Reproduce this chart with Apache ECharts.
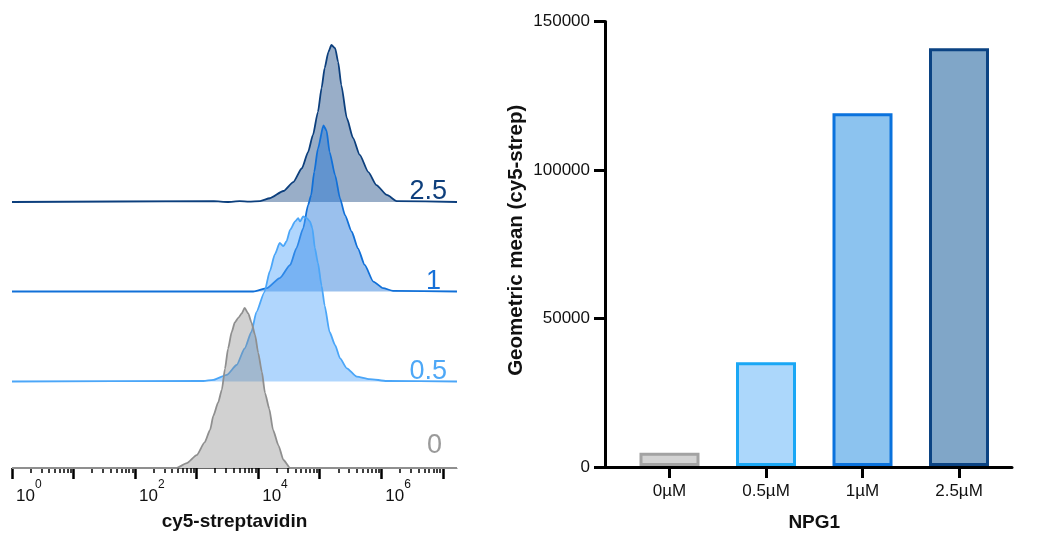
<!DOCTYPE html>
<html>
<head>
<meta charset="utf-8">
<title>cy5-streptavidin</title>
<script src="https://cdn.jsdelivr.net/npm/echarts@6/dist/echarts.min.js"></script>
<style>
  html, body { margin: 0; padding: 0; background: #fff; }
  #chart { width: 1044px; height: 537px; }
</style>
</head>
<body>
<div id="chart"></div>
<script>
// histogram data: x = log10(intensity), y = % of mode
const histNames = ['2.5', '1', '0.5', '0']

const x25 = [0, 3.28, 3.5, 3.7, 3.85, 4.03, 4.19, 4.41, 4.57, 4.71, 4.81, 4.89, 4.97, 5.03, 5.08, 5.14, 5.19, 5.25, 5.30, 5.35, 5.44, 5.54, 5.65, 5.79, 5.92, 6.09, 6.25, 7.23]
const y25 = [0, 0.5, 0, 0.6, 0.3, 0.6, 2.4, 7, 12.7, 21.5, 31.8, 42.7, 57.3, 72.6, 85.4, 95.5, 100, 98, 89, 74.5, 53.5, 40.8, 30, 19, 10.8, 4.5, 0.6, 0]

const x1 = [0, 3.92, 4.14, 4.35, 4.52, 4.62, 4.73, 4.81, 4.86, 4.91, 4.97, 5.06, 5.11, 5.16, 5.25, 5.33, 5.41, 5.52, 5.62, 5.73, 5.87, 6.03, 6.19, 7.23]
const y1 = [0, 0, 2, 8, 16, 26, 38, 52, 58, 72, 86, 100, 97, 84, 70, 56, 46, 36, 26, 16, 6, 2, 0.4, 0]

const x05 = [0, 3.11, 3.27, 3.49, 3.65, 3.78, 3.89, 3.97, 4.10, 4.19, 4.27, 4.35, 4.41, 4.46, 4.52, 4.60, 4.65, 4.68, 4.73, 4.79, 4.84, 4.88, 4.92, 4.97, 5.03, 5.08, 5.16, 5.25, 5.33, 5.44, 5.60, 5.81, 6.09, 7.23]
const y05 = [0, 0.3, 1, 4, 10, 20, 30, 42, 54, 67, 77, 84, 82, 85, 92, 97, 99, 97, 100, 99, 97, 93, 81, 72, 58, 46, 30, 22, 14, 8, 3, 1.5, 0.3, 0]

const x0 = [0, 2.67, 2.84, 3.00, 3.13, 3.22, 3.27, 3.35, 3.41, 3.46, 3.51, 3.57, 3.62, 3.68, 3.73, 3.78, 3.84, 3.89, 3.95, 4.00, 4.06, 4.11, 4.18, 4.24, 4.33, 4.41, 4.52, 7.23]
const y0 = [0, 0, 3, 8, 16, 24, 32.5, 41, 49, 62, 74.5, 85, 91, 94, 96.5, 100, 96.5, 91, 83, 72, 60, 47, 37, 24, 14, 5, 0, 0]

const majorTicks = [0, 1, 2, 3, 4, 5, 6, 7]
const labelTicks = [0, 2, 4, 6]

// bar chart data
const barCategories = ['0µM', '0.5µM', '1µM', '2.5µM']
const barValues = [4500, 35000, 119000, 141000]

// layout / style
const FONT = 'Liberation Sans, Arial, Helvetica, sans-serif'
const X_MAX = 7.23
const histStyles = [
  { x: x25, y: y25, off: 266, h: 157, line: '#0c3f7d', fill: 'rgba(12,63,125,0.42)', text: '#0e3f7c', dx: -10, dy: 3 },
  { x: x1, y: y1, off: 176.5, h: 166, line: '#1170d8', fill: 'rgba(30,115,215,0.45)', text: '#1670d8', dx: -16, dy: 4 },
  { x: x05, y: y05, off: 86.5, h: 165, line: '#4ba6f8', fill: 'rgba(80,165,250,0.45)', text: '#4ea8f7', dx: -10, dy: 4 },
  { x: x0, y: y0, off: 0, h: 160, line: '#8f8f8f', fill: 'rgba(140,140,140,0.4)', text: '#9a9a9a', dx: -15, dy: -9 }
]
const barFills = ['#d3d3d3', '#acd7fb', '#8cc3ef', '#80a6c8']
const barBorders = ['#a3a3a3', '#1aa7f5', '#0a72dd', '#0b4383']

// minor ticks of the log axis (2..9 x 10^d)
const minorTicks = []
for (let d = 0; d < 7; d++) {
  for (let k = 2; k <= 9; k++) minorTicks.push(d + Math.log10(k))
}

const chart = echarts.init(document.getElementById('chart'))

const histSeries = histStyles.map((s, i) => ({
  name: histNames[i],
  type: 'line',
  xAxisIndex: 0,
  yAxisIndex: 0,
  showSymbol: false,
  smooth: 0.2,
  smoothMonotone: 'x',
  z: 2 + i,
  data: s.x.map((v, j) => [v, s.off + s.y[j] / 100 * s.h]),
  lineStyle: { color: s.line, width: 1.8 },
  areaStyle: { color: s.fill, origin: s.off, opacity: 1 },
  markPoint: {
    symbol: 'circle',
    symbolSize: 0,
    silent: true,
    data: [{
      coord: [X_MAX, s.off],
      label: {
        show: true,
        formatter: histNames[i],
        position: [s.dx, s.dy],
        align: 'right',
        verticalAlign: 'bottom',
        color: s.text,
        fontSize: 27,
        fontFamily: FONT
      }
    }]
  }
}))

const option = {
  animation: false,
  grid: [
    { left: 12, right: 587, top: 18, bottom: 69 },
    { left: 605, right: 32, top: 21.5, bottom: 70 },
    { left: 621.25, right: 36.75, top: 21.5, bottom: 70 }
  ],
  xAxis: [
    {
      gridIndex: 0,
      type: 'value',
      min: 0,
      max: X_MAX,
      position: 'bottom',
      splitLine: { show: false },
      axisLine: { show: true, lineStyle: { color: '#666', width: 1 } },
      axisTick: { show: true, customValues: majorTicks, length: 11, lineStyle: { color: '#000', width: 2.5 } },
      axisLabel: {
        customValues: labelTicks,
        align: 'left',
        margin: 11,
        padding: [0, 0, 0, 4],
        formatter: v => '{b|10}{s|' + v + '}',
        rich: {
          b: { fontSize: 17, fontFamily: FONT, color: '#111', lineHeight: 26, verticalAlign: 'bottom' },
          s: { fontSize: 12, fontFamily: FONT, color: '#111', lineHeight: 12, verticalAlign: 'top' }
        }
      },
      name: 'cy5-streptavidin',
      nameLocation: 'middle',
      nameGap: 44,
      nameTextStyle: { fontSize: 19, fontWeight: 'bold', color: '#111', fontFamily: FONT }
    },
    {
      gridIndex: 0,
      type: 'value',
      min: 0,
      max: X_MAX,
      position: 'bottom',
      offset: 0,
      splitLine: { show: false },
      axisLine: { show: false },
      axisTick: { show: true, customValues: minorTicks, length: 5, lineStyle: { color: '#000', width: 1.5 } },
      axisLabel: { show: false }
    },
    {
      gridIndex: 1,
      type: 'value',
      min: 0,
      max: 1,
      splitLine: { show: false },
      axisLine: { show: true, lineStyle: { color: '#000', width: 3 } },
      axisTick: { show: false },
      axisLabel: { show: false }
    },
    {
      gridIndex: 2,
      type: 'category',
      data: barCategories,
      axisLine: { show: false },
      axisTick: { show: true, alignWithLabel: true, length: 12, lineStyle: { color: '#000', width: 3 } },
      axisLabel: { fontSize: 17, color: '#111', fontFamily: FONT, margin: 17 },
      name: 'NPG1',
      nameLocation: 'middle',
      nameGap: 47,
      nameTextStyle: { fontSize: 19, fontWeight: 'bold', color: '#111', fontFamily: FONT }
    }
  ],
  yAxis: [
    { gridIndex: 0, type: 'value', min: 0, max: 450, show: false },
    {
      gridIndex: 1,
      type: 'value',
      min: 0,
      max: 150000,
      interval: 50000,
      splitLine: { show: false },
      axisLine: { show: true, lineStyle: { color: '#000', width: 3 } },
      axisTick: { show: true, length: 11, lineStyle: { color: '#000', width: 3 } },
      axisLabel: { fontSize: 17, color: '#111', fontFamily: FONT, margin: 15, formatter: v => String(v) },
      name: 'Geometric mean (cy5-strep)',
      nameLocation: 'middle',
      nameGap: 78,
      nameTextStyle: { fontSize: 20.5, fontWeight: 'bold', color: '#111', fontFamily: FONT, padding: [0, 0, 0, 8] }
    },
    { gridIndex: 2, type: 'value', min: 0, max: 150000, show: false }
  ],
  series: [
    ...histSeries,
    {
      name: 'NPG1',
      type: 'bar',
      xAxisIndex: 3,
      yAxisIndex: 2,
      barWidth: 60,
      z: 3,
      data: barValues.map((v, i) => ({
        value: v,
        itemStyle: { color: barFills[i], borderColor: barBorders[i], borderWidth: 3 }
      }))
    }
  ]
}

chart.setOption(option)
</script>
</body>
</html>
